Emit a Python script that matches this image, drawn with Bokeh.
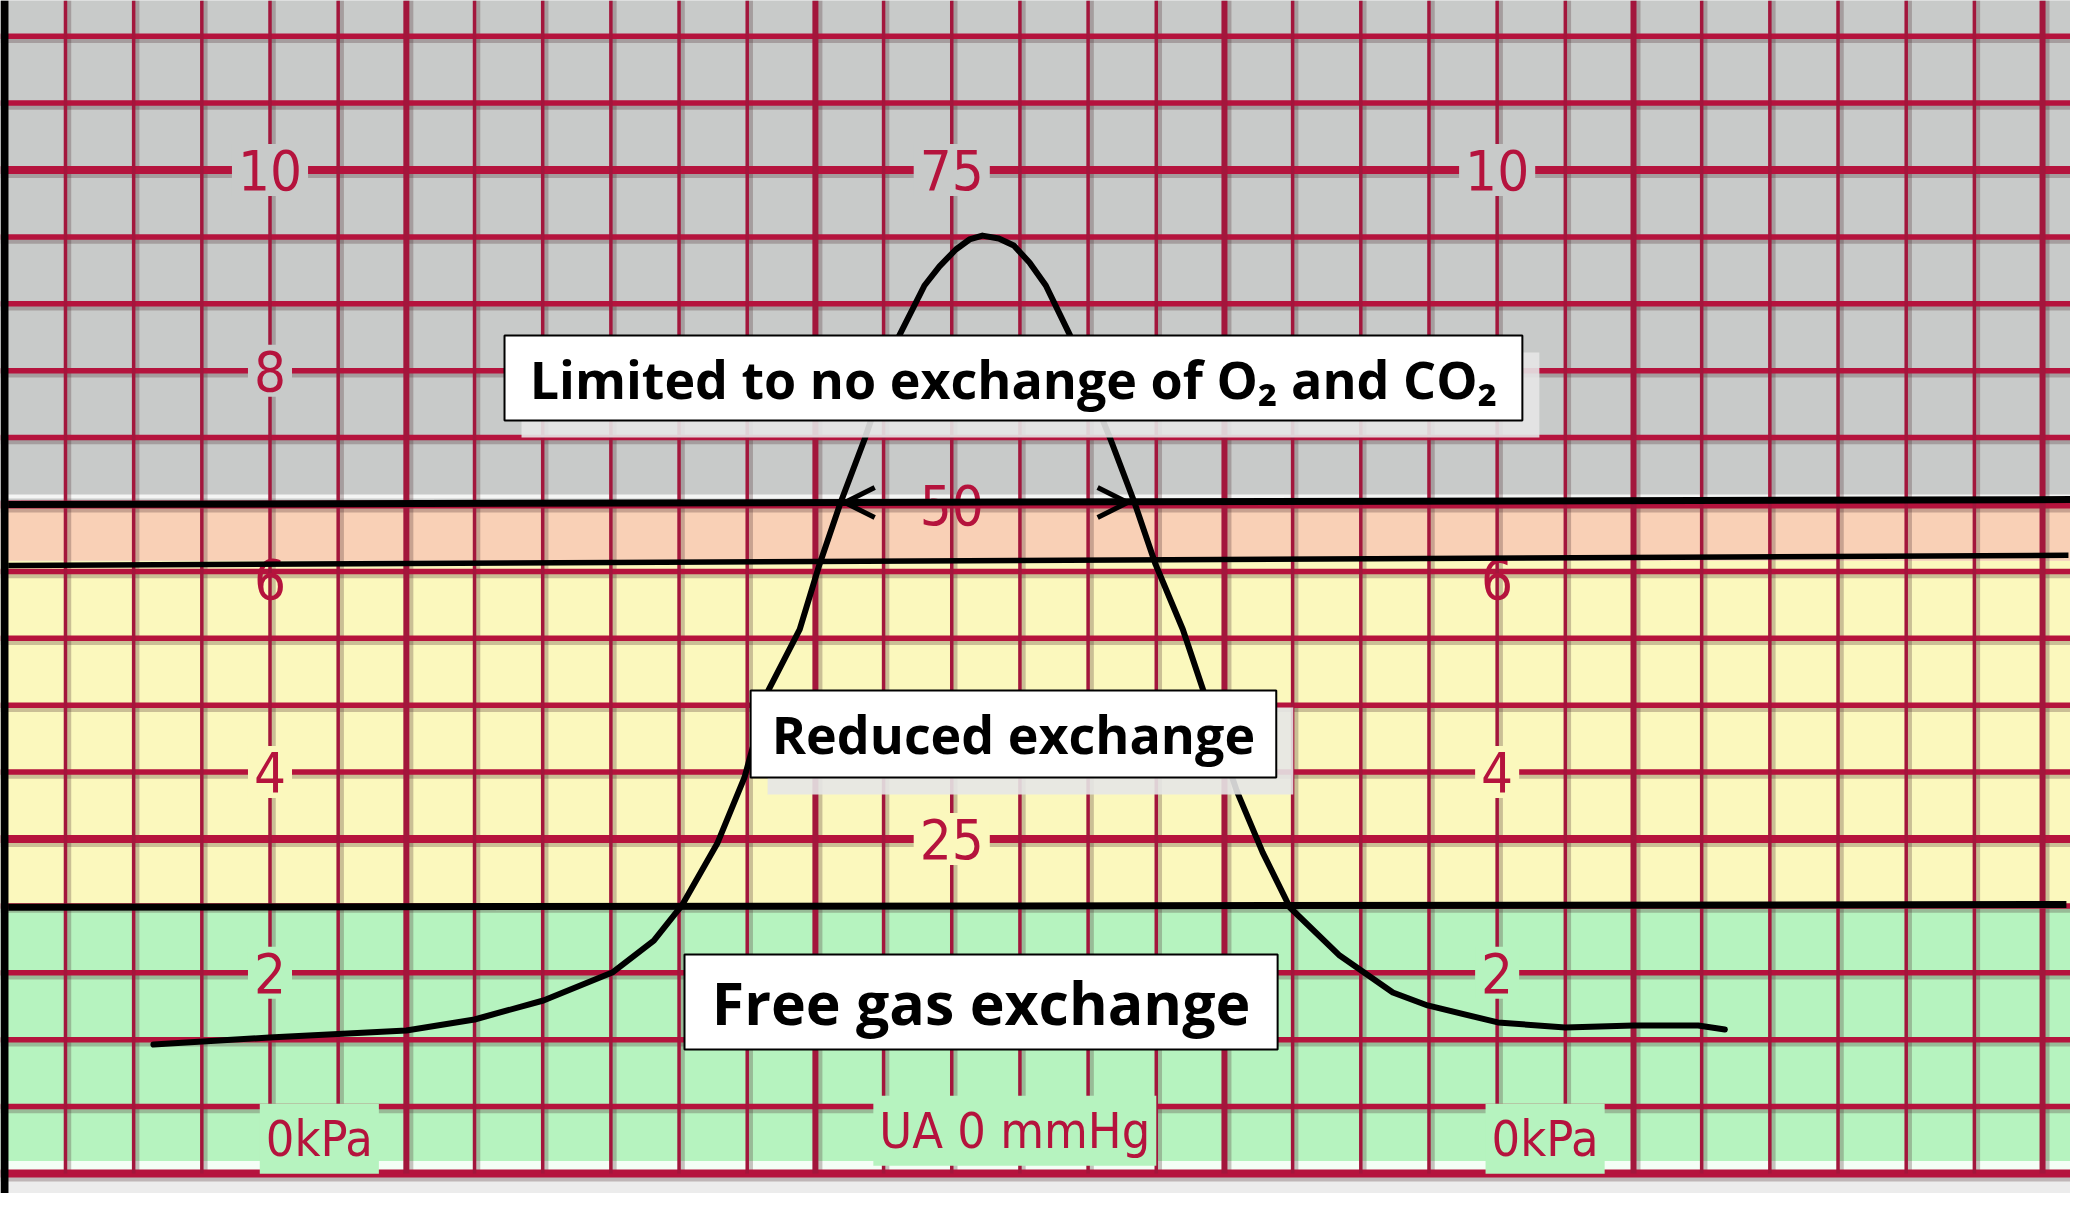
from bokeh.plotting import figure
from bokeh.models import Range1d, Arrow, OpenHead, ColumnDataSource
from bokeh.core.properties import value
from bokeh.embed import file_html
from bokeh.resources import INLINE

# ---------------- data ----------------
# chart-paper grid: x in small squares (time), y in mmHg
time_ticks = list(range(0, 30))
major_time = [5, 11, 17, 23, 29]
mmhg_ticks = list(range(5, 90, 5))
major_mmhg = [0, 25, 50, 75]

# scale labels
kpa_labels = ["10", "8", "6", "4", "2"]
kpa_at_mmhg = [75, 60, 44.4, 30, 15]
mmhg_labels = ["75", "50", "25"]
mmhg_at = [75, 50, 25]
zero_labels = ["0kPa", "UA 0 mmHg", "0kPa"]

# exchange zones (mmHg)
zone_names = ["Free gas exchange", "Reduced exchange", "Transition", "Limited to no exchange of O\u2082 and CO\u2082"]
zone_bottom = [0, 20, 45.8, 50.2]
zone_top = [20, 45.8, 50.2, 88]
zone_colors = ["#b6f3bf", "#fbf8bd", "#f9d0b6", "#c8cac9"]

# black boundary lines (mmHg at left / right end)
boundary_left = [50.0, 45.45, 19.9]
boundary_right = [50.37, 46.2, 20.1]

# traced contraction curve
curve_t = [1.29, 2.99, 5.00, 6.00, 7.01, 8.02, 8.63, 9.05, 9.56, 9.96, 10.31, 10.77,
           11.06, 11.37, 11.72, 11.98, 12.23, 12.60, 12.82, 13.06, 13.26, 13.45, 13.69, 13.91,
           14.14, 14.38, 14.73, 15.02, 15.33, 15.68, 15.99, 16.39, 16.69, 17.18, 17.56, 17.96,
           18.69, 19.47, 19.98, 21.01, 22.0, 23.0, 23.95, 24.34]
curve_p = [9.64, 10.16, 10.69, 11.51, 12.93, 15.02, 17.41, 20.1, 24.66, 29.6, 36.1, 40.66,
           45.52, 50.15, 54.86, 58.74, 62.63, 66.37, 67.8, 69.06, 69.81, 70.1, 69.88, 69.36,
           68.09, 66.37, 62.7, 58.74, 54.86, 50.15, 45.52, 40.66, 36.1, 28.6, 24.0, 19.88,
           16.29, 13.53, 12.56, 11.29, 10.91, 11.06, 11.06, 10.76]

box_texts = ["Limited to no exchange of O\u2082 and CO\u2082", "Reduced exchange", "Free gas exchange"]

# ---------------- layout / style ----------------
X0, X1 = -0.953, 29.41
Y0, Y1 = -1.495, 87.67
PX_X = (X1 - X0) / 2070.0
PX_Y = (Y1 - Y0) / 1193.0

p = figure(width=2070, height=1193, x_range=Range1d(X0, X1), y_range=Range1d(Y0, Y1),
           output_backend="svg", toolbar_location=None, min_border=0,
           x_axis_location=None, y_axis_location=None)
p.grid.visible = False
p.outline_line_color = None
p.background_fill_color = "#ececec"

# zone bands
p.quad(left=X0, right=X1, bottom=zone_bottom, top=zone_top, fill_color=zone_colors, line_color=None)

# paper highlights
p.line([X0, X1], [50.6, 50.6], line_color="white", line_width=4, line_alpha=0.8)
p.line([X0, X1], [0.6, 0.6], line_color="white", line_width=9, line_alpha=0.85)

RED = "#b5133d"
SH = "#4a2a30"
vx = [[t, t] for t in time_ticks]
vy = [[0, Y1] for t in time_ticks]
vw = [6 if t in major_time else 3.5 for t in time_ticks]
hy_all = [0] + mmhg_ticks
hx = [[X0, X1] for v in hy_all]
hy = [[v, v] for v in hy_all]
hw = [8 if v in major_mmhg else 5.5 for v in hy_all]

# shadows
p.multi_line([[a + 2.5 * PX_X for a in xs] for xs in vx], vy, line_color=SH, line_alpha=0.28,
             line_width=[w + 3 for w in vw])
p.multi_line(hx, [[a - 2.5 * PX_Y for a in ys] for ys in hy], line_color=SH, line_alpha=0.28,
             line_width=[w + 3 for w in hw])
# red grid
p.multi_line(hx, hy, line_color=RED, line_width=hw)
p.multi_line(vx, vy, line_color="#a3163c", line_width=vw)


def zone_color(v):
    for b, t, c in zip(zone_bottom, zone_top, zone_colors):
        if b <= v < t:
            return c
    return zone_colors[-1]


def bg_alpha(v):
    d = min(abs(v - b) for b in zone_bottom[1:])
    return 1.0 if d > 3 else 0.0


LABEL_FONT = value("Liberation Sans Narrow, DejaVu Sans Condensed, Liberation Sans, sans-serif")
lab_x, lab_y, lab_t, lab_bg, lab_ba = [], [], [], [], []
for col in (3, 21):
    for t, v in zip(kpa_labels, kpa_at_mmhg):
        lab_x.append(col); lab_y.append(v); lab_t.append(t)
        lab_bg.append(zone_color(v)); lab_ba.append(bg_alpha(v))
for t, v in zip(mmhg_labels, mmhg_at):
    lab_x.append(13); lab_y.append(v); lab_t.append(t)
    lab_bg.append(zone_color(v)); lab_ba.append(bg_alpha(v))
src = ColumnDataSource(dict(x=lab_x, y=lab_y, text=lab_t, bg=lab_bg, ba=lab_ba))
p.text(x="x", y="y", text="text", source=src, text_align="center", text_baseline="middle",
       text_font=LABEL_FONT, text_font_size="56px", text_color=RED,
       background_fill_color="bg", background_fill_alpha="ba", padding=6)

# zero labels near the bottom line
z_x = [2.85, 11.85, 20.83]
z_y = [2.6, 3.2, 2.6]
src0 = ColumnDataSource(dict(x=z_x, y=z_y, text=zero_labels))
p.text(x="x", y="y", text="text", source=src0, text_align="left", text_baseline="middle",
       text_font=LABEL_FONT, text_font_size="50px", text_color=RED,
       background_fill_color=zone_colors[0], padding=6)

# left black frame bar
p.quad(left=X0, right=-0.836, bottom=Y0, top=Y1, fill_color="black", line_color=None)

# black zone boundary lines
ends = [29.5, 29.38, 29.35]
widths = [7, 5.5, 7]
for yl, yr, xe, w in zip(boundary_left, boundary_right, ends, widths):
    p.line([-0.84, xe], [yl, yr], line_color="black", line_width=w)

# curve
p.line(curve_t, curve_p, line_color="black", line_width=6, line_join="round", line_cap="round")

# width arrows at the 50 mmHg level
p.add_layout(Arrow(end=OpenHead(size=30, line_width=5, line_color="black"),
                   x_start=12.2, y_start=50.15, x_end=11.43, y_end=50.15,
                   line_color="black", line_width=5))
p.add_layout(Arrow(end=OpenHead(size=30, line_width=5, line_color="black"),
                   x_start=14.8, y_start=50.15, x_end=15.58, y_end=50.15,
                   line_color="black", line_width=5))

# annotation boxes
bl = [6.44, 10.05, 9.08]
br = [21.37, 17.76, 17.78]
bb = [56.28, 29.6, 9.27]
bt = [62.63, 36.1, 16.37]
shadow = [True, True, False]
for l, r, b, t, s in zip(bl, br, bb, bt, shadow):
    if s:
        p.quad(left=l + 17 * PX_X, right=r + 17 * PX_X, bottom=b - 17 * PX_Y, top=t - 17 * PX_Y,
               fill_color="#e6e6e6", fill_alpha=0.9, line_color=None)
    p.quad(left=l, right=r, bottom=b, top=t, fill_color="white", line_color="black", line_width=2)

sizes = ["52px", "52px", "59px"]
for txt, l, r, b, t, fs in zip(box_texts, bl, br, bb, bt, sizes):
    p.text(x=[(l + r) / 2], y=[(b + t) / 2], text=[txt], text_align="center", text_baseline="middle",
           text_font=value("Open Sans"), text_font_style="bold", text_font_size=fs, text_color="black")

open("out.html", "w").write(file_html(p, INLINE))
